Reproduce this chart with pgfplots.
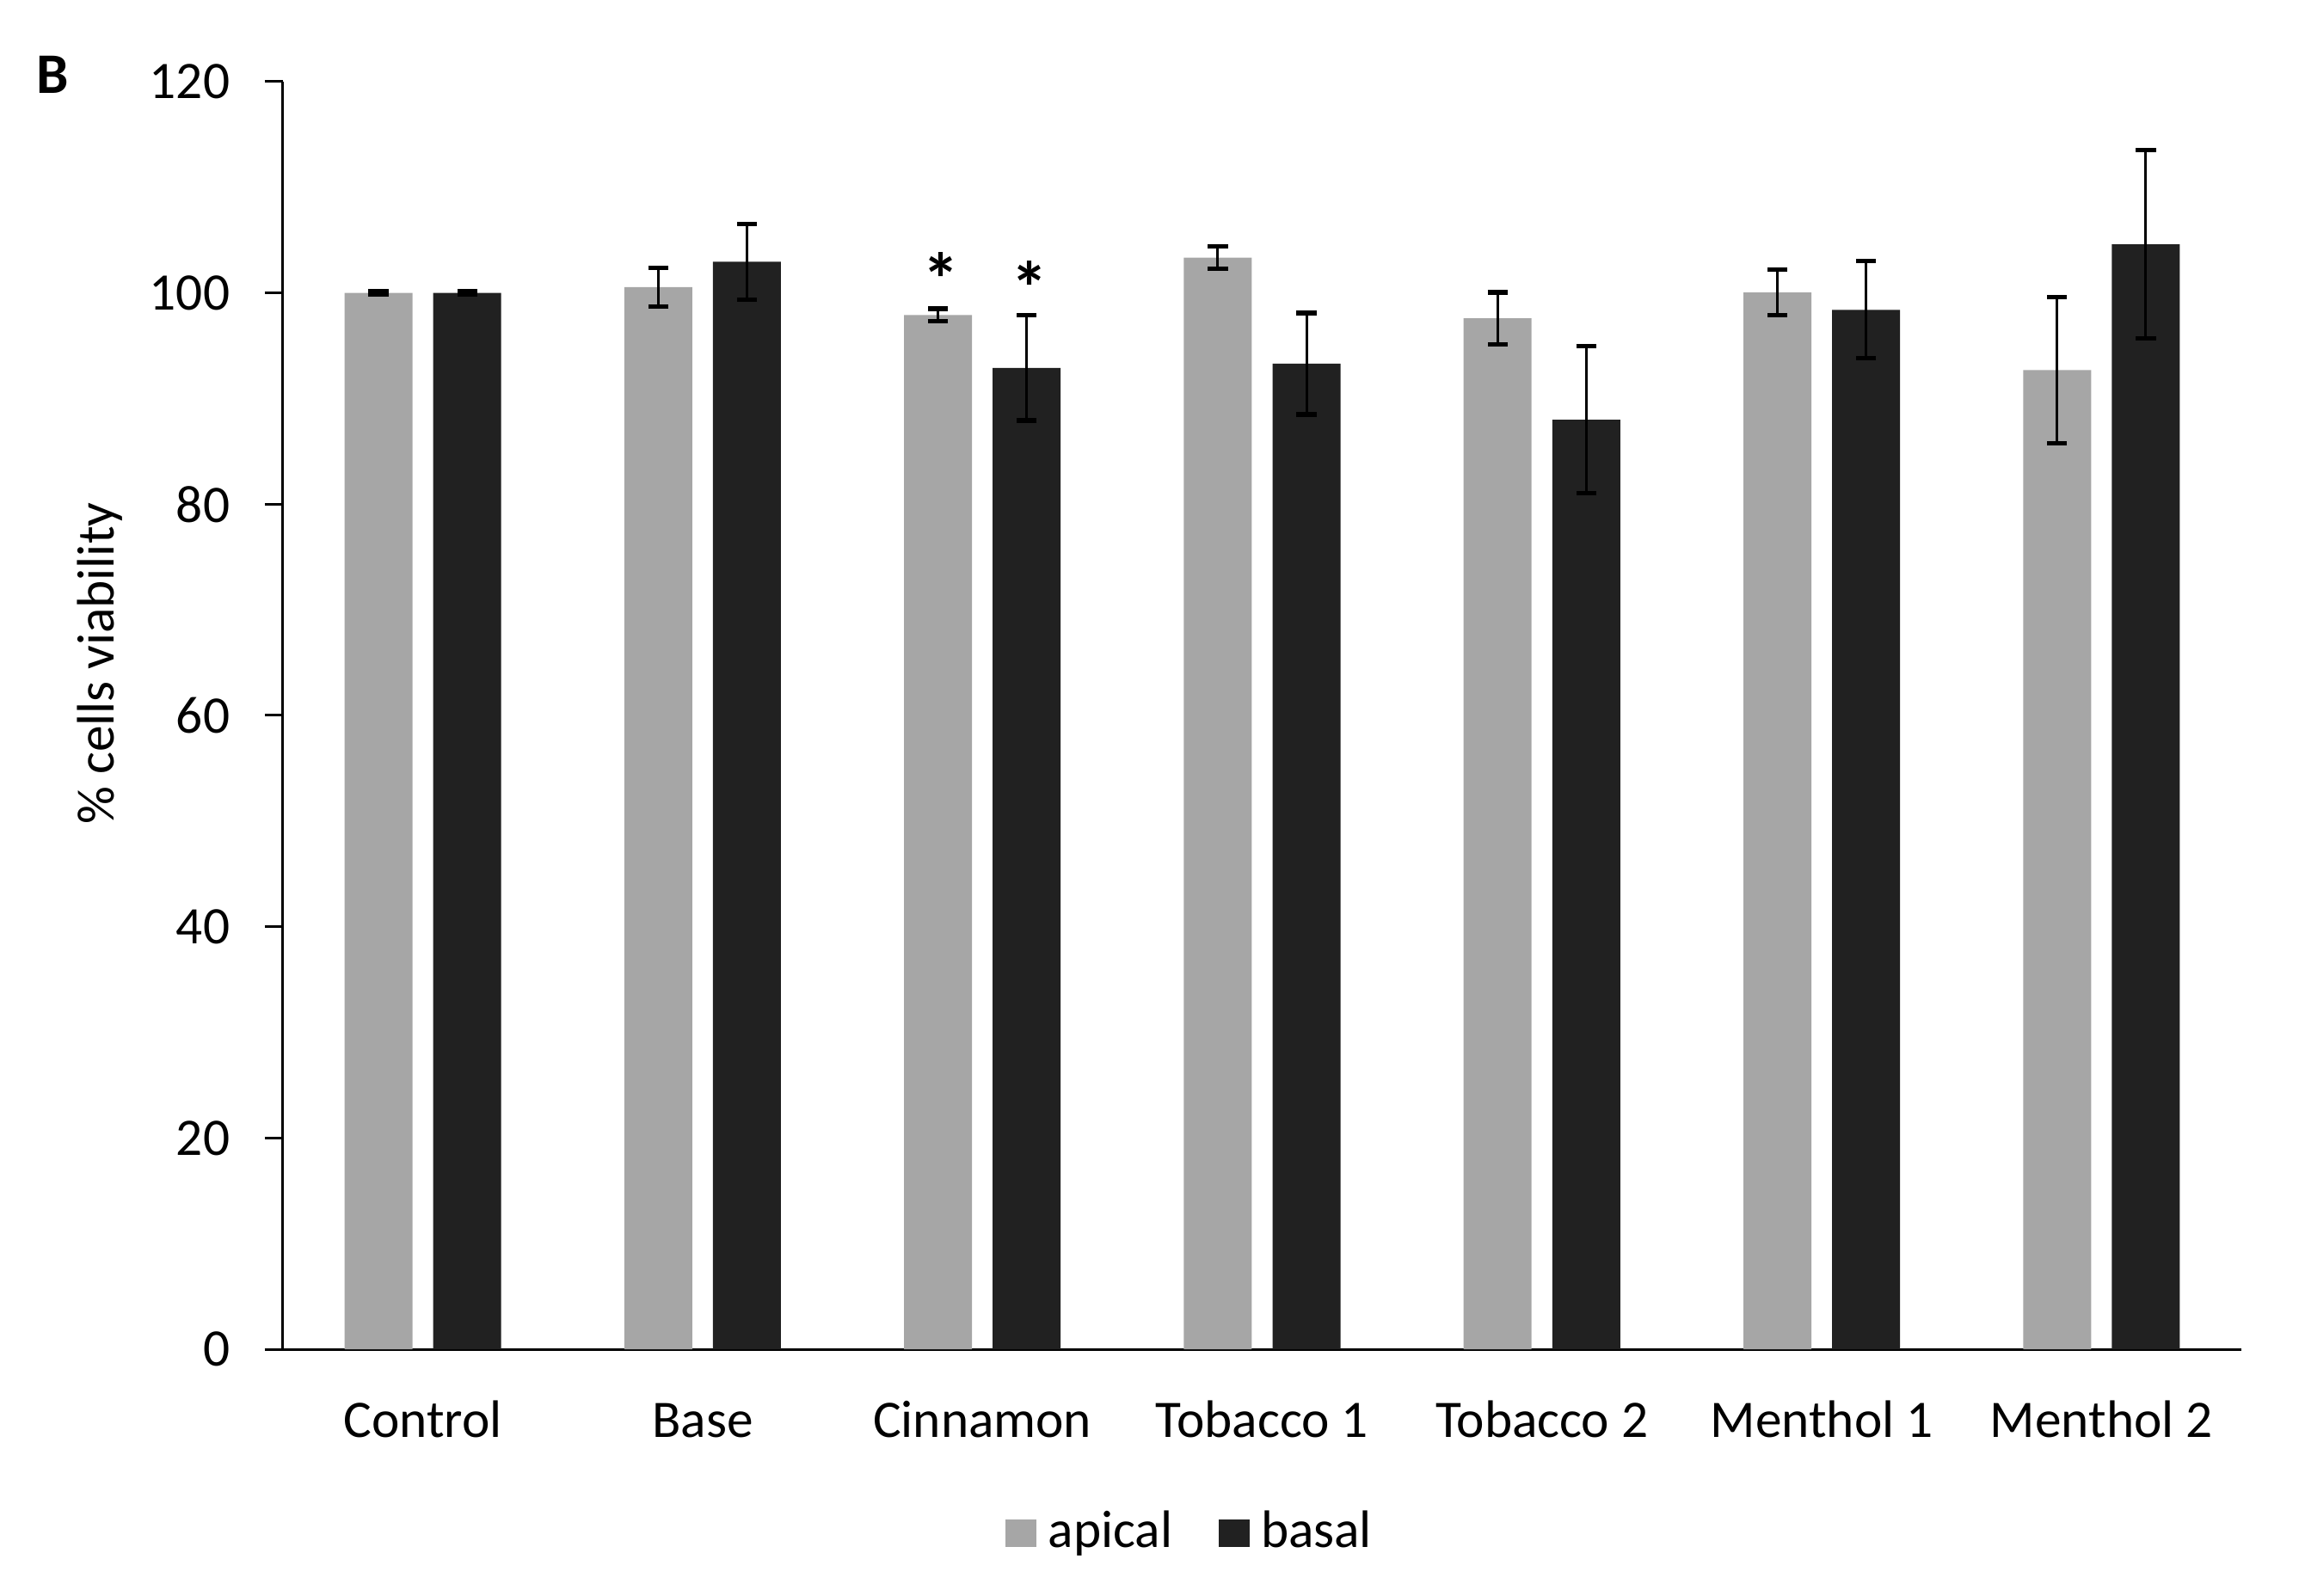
\documentclass[border=0pt]{standalone}
\usepackage{fontspec}
\setmainfont{Carlito}
\usepackage{pgfplots}
\usepackage{pgfplotstable}
\pgfplotsset{compat=1.18}

\definecolor{apical}{RGB}{166,166,166}
\definecolor{basal}{RGB}{33,33,33}

% x = category index, v = mean, e = error
\pgfplotstableread{
x v e
0 100.0 0.15
1 100.55 1.85
2 97.9 0.6
3 103.35 1.05
4 97.6 2.45
5 100.05 2.15
6 92.7 6.93
}\apicaldata

\pgfplotstableread{
x v e
0 100.0 0.15
1 102.95 3.58
2 92.9 4.99
3 93.3 4.8
4 88.0 6.94
5 98.4 4.6
6 104.6 8.9
}\basaldata

\begin{document}
\begin{tikzpicture}
\path[use as bounding box] (-49.35pt,-42.9pt) rectangle (351.6pt,235.35pt);
\begin{axis}[
    scale only axis,
    width=341.55pt, height=221.1pt,
    ybar,
    bar width=11.85pt,
    xmin=-0.5, xmax=6.5,
    ymin=0, ymax=120,
    ytick={0,20,...,120},
    xtick={0,...,6},
    xticklabels={Control, Base, Cinnamon, Tobacco 1, Tobacco 2, Menthol 1, Menthol 2},
    axis lines*=left,
    axis line style={black, line width=0.45pt},
    x axis line style={-},
    y axis line style={-},
    tick align=outside,
    major tick length=3.15pt,
    xtick style={draw=none},
    ytick style={black, line width=0.45pt},
    tick label style={font=\fontsize{9.2}{11}\selectfont},
    /pgf/number format/assume math mode=true,
    xticklabel style={anchor=base, yshift=-12.15pt},
    yticklabel style={xshift=-2.6pt},
    ylabel={\% cells viability},
    ylabel style={at={(axis description cs:-0.0935,0.541)}, anchor=center, font=\fontsize{9.2}{11}\selectfont},
    legend columns=2,
    legend style={draw=none, fill=none, at={(axis description cs:0.4655,-0.145)}, anchor=center,
        font=\fontsize{9.2}{11}\selectfont,
        /tikz/every even column/.append style={column sep=6pt}},
    legend image code/.code={\fill[#1] (0pt,-2.4pt) rectangle (5.4pt,2.4pt);},
    error bars/error bar style={black, line width=0.45pt},
    error bars/error mark options={black, rotate=90, mark size=1.75pt, line width=0.8pt},
]
\addplot[fill=apical, draw=none, bar shift=-7.73pt,
    error bars/.cd, y dir=both, y explicit]
    table[x=x, y=v, y error=e] {\apicaldata};
\addlegendentry{apical}
\addplot[fill=basal, draw=none, bar shift=7.73pt,
    error bars/.cd, y dir=both, y explicit]
    table[x=x, y=v, y error=e] {\basaldata};
\addlegendentry{basal}

\node[font=\fontsize{13}{13}\selectfont\bfseries] at (axis cs:2,102.58) [xshift=-7.2pt, yshift=-2.3pt] {*};
\node[font=\fontsize{13}{13}\selectfont\bfseries] at (axis cs:2,101.77) [xshift=8.2pt, yshift=-2.3pt] {*};
\end{axis}
\node[font=\fontsize{10}{12}\selectfont\bfseries] at (-40.15pt,222.25pt) {B};
\end{tikzpicture}
\end{document}
